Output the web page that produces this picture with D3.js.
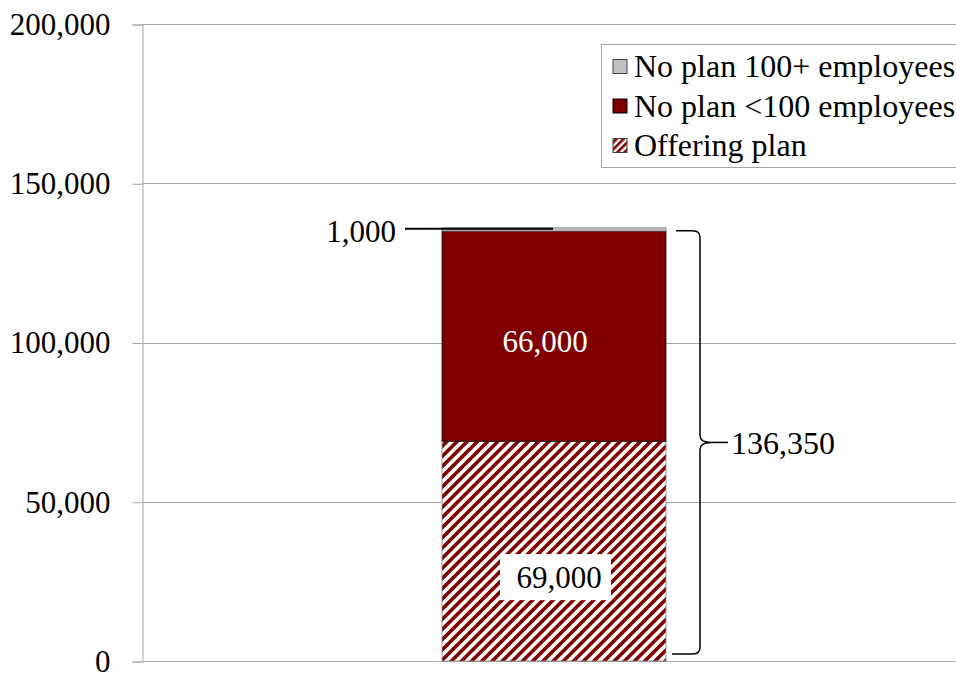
<!DOCTYPE html>
<html>
<head>
<meta charset="utf-8">
<script src="https://cdn.jsdelivr.net/npm/d3@7/dist/d3.min.js"></script>
<style>
  html, body { margin: 0; padding: 0; background: #fff; }
  svg { display: block; }
</style>
</head>
<body>
<svg id="chart" width="956" height="675" font-family="Liberation Serif, Times New Roman, serif"></svg>
<script>
// Firm counts by retirement plan status (single stacked column)
const categories = ["All firms"];
const seriesNames = ["Offering plan", "No plan <100 employees", "No plan 100+ employees"];
const offeringPlan = [69000];
const noPlanUnder100 = [66000];
const noPlan100Plus = [1000];
const totalLabel = ["136,350"];
const yTicks = [0, 50000, 100000, 150000, 200000];

const FONT = "'Liberation Serif', 'Times New Roman', Times, serif";

const svg = d3.select("#chart");
const W = 956, H = 675;
const margin = { left: 142, right: -10, top: 24, bottom: 14 };

const x = d3.scaleBand()
  .domain(categories)
  .range([margin.left, W - margin.right])
  .padding(0.5726);

const y = d3.scaleLinear()
  .domain([0, 200000])
  .range([H - margin.bottom, margin.top]);

const fmt = d3.format(",");

// hatch pattern for the "Offering plan" segment
const defs = svg.append("defs");
const pat = defs.append("pattern")
  .attr("id", "hatch")
  .attr("patternUnits", "userSpaceOnUse")
  .attr("width", 7.2)
  .attr("height", 10)
  .attr("patternTransform", "rotate(45)");
pat.append("rect").attr("width", 7.2).attr("height", 10).attr("fill", "#fff");
pat.append("rect").attr("width", 3.6).attr("height", 10).attr("fill", "#800000");

// gridlines
svg.append("g")
  .selectAll("line")
  .data(yTicks)
  .join("line")
  .attr("x1", margin.left)
  .attr("x2", W)
  .attr("y1", d => Math.round(y(d)) + 0.5)
  .attr("y2", d => Math.round(y(d)) + 0.5)
  .attr("stroke", "#a6a6a6")
  .attr("stroke-width", 1);

// y axis
const yAxis = d3.axisLeft(y)
  .tickValues(yTicks)
  .tickFormat(fmt)
  .tickSize(10)
  .tickPadding(22);
const gy = svg.append("g")
  .attr("transform", `translate(${margin.left + 0.5},0.5)`)
  .call(yAxis)
  .attr("font-family", FONT)
  .attr("font-size", 31);
gy.select(".domain").attr("stroke", "#a6a6a6");
gy.selectAll(".tick line").attr("stroke", "#a6a6a6");
gy.selectAll(".tick text")
  .style("font-family", FONT)
  .style("font-size", "31px")
  .attr("fill", "#000");

// stacked segments
const rows = categories.map((c, i) => ({
  cat: c,
  "Offering plan": offeringPlan[i],
  "No plan <100 employees": noPlanUnder100[i],
  "No plan 100+ employees": noPlan100Plus[i]
}));
const stack = d3.stack().keys(seriesNames)(rows);
const fills = {
  "Offering plan": "url(#hatch)",
  "No plan <100 employees": "#800000",
  "No plan 100+ employees": "#c0c0c0"
};
const strokes = {
  "Offering plan": "#7f7f7f",
  "No plan <100 employees": "#000",
  "No plan 100+ employees": "#7f7f7f"
};

svg.append("g")
  .selectAll("g")
  .data(stack)
  .join("g")
  .each(function(layer) {
    d3.select(this).selectAll("rect")
      .data(layer)
      .join("rect")
      .attr("x", d => x(d.data.cat))
      .attr("width", x.bandwidth())
      .attr("y", d => y(d[1]))
      .attr("height", d => y(d[0]) - y(d[1]))
      .attr("fill", fills[layer.key])
      .attr("stroke", strokes[layer.key])
      .attr("stroke-width", 0.8);
  });

const cx = x(categories[0]) + x.bandwidth() / 2;
const total = offeringPlan[0] + noPlanUnder100[0] + noPlan100Plus[0];

function label(sel, size = 31) {
  return sel.style("font-family", FONT).style("font-size", size + "px");
}

// value label: No plan <100 employees
svg.append("text")
  .attr("x", cx - 9)
  .attr("y", y(offeringPlan[0] + noPlanUnder100[0] / 2) + 5)
  .attr("dy", "0.35em")
  .attr("text-anchor", "middle")
  .attr("fill", "#fff")
  .call(label)
  .text(fmt(noPlanUnder100[0]));

// value label: Offering plan (on a white box)
const offY = y(offeringPlan[0] / 2) + 26;
svg.append("rect")
  .attr("x", cx - 54)
  .attr("y", offY - 23)
  .attr("width", 111)
  .attr("height", 46)
  .attr("fill", "#fff");
svg.append("text")
  .attr("x", cx + 5)
  .attr("y", offY)
  .attr("dy", "0.35em")
  .attr("text-anchor", "middle")
  .attr("fill", "#000")
  .call(label)
  .text(fmt(offeringPlan[0]));

// value label: No plan 100+ employees with leader line
const topY = y(total);
svg.append("line")
  .attr("x1", 405)
  .attr("x2", cx - 1)
  .attr("y1", topY + 1)
  .attr("y2", topY + 1)
  .attr("stroke", "#000")
  .attr("stroke-width", 2);
svg.append("text")
  .attr("x", 396)
  .attr("y", topY + 3)
  .attr("dy", "0.35em")
  .attr("text-anchor", "end")
  .attr("fill", "#000")
  .call(label)
  .text(fmt(noPlan100Plus[0]));

// brace spanning the whole column, with total label
const bTop = topY + 3;
const bBot = y(0) - 7;
const bMid = (bTop + bBot) / 2;
const bx = 700;
const brace = d3.path();
brace.moveTo(676, bTop);
brace.lineTo(bx - 7, bTop);
brace.quadraticCurveTo(bx, bTop, bx, bTop + 7);
brace.lineTo(bx, bMid - 7);
brace.quadraticCurveTo(bx, bMid, bx + 11, bMid);
brace.quadraticCurveTo(bx, bMid, bx, bMid + 7);
brace.lineTo(bx, bBot - 7);
brace.quadraticCurveTo(bx, bBot, bx - 7, bBot);
brace.lineTo(672, bBot);
svg.append("path")
  .attr("d", brace.toString())
  .attr("fill", "none")
  .attr("stroke", "#000")
  .attr("stroke-width", 1.5);
svg.append("line")
  .attr("x1", bx + 11)
  .attr("x2", 728)
  .attr("y1", bMid)
  .attr("y2", bMid)
  .attr("stroke", "#000")
  .attr("stroke-width", 1.5);
svg.append("text")
  .attr("x", 731)
  .attr("y", bMid)
  .attr("dy", "0.35em")
  .attr("fill", "#000")
  .call(label, 32)
  .text(totalLabel[0]);

// legend
const pat2 = defs.append("pattern")
  .attr("id", "hatchSmall")
  .attr("patternUnits", "userSpaceOnUse")
  .attr("width", 5)
  .attr("height", 8)
  .attr("patternTransform", "rotate(45)");
pat2.append("rect").attr("width", 5).attr("height", 8).attr("fill", "#fff");
pat2.append("rect").attr("width", 2.6).attr("height", 8).attr("fill", "#800000");

const legendItems = [
  { name: "No plan 100+ employees", fill: "#c0c0c0", stroke: "#404040" },
  { name: "No plan <100 employees", fill: "#800000", stroke: "#000" },
  { name: "Offering plan", fill: "url(#hatchSmall)", stroke: "#404040" }
];

const lg = svg.append("g");
lg.append("rect")
  .attr("x", 601.5)
  .attr("y", 44.5)
  .attr("width", 400)
  .attr("height", 123)
  .attr("fill", "#fff")
  .attr("stroke", "#a6a6a6")
  .attr("stroke-width", 1);
const li = lg.selectAll("g.item")
  .data(legendItems)
  .join("g")
  .attr("class", "item")
  .attr("transform", (d, i) => `translate(0,${66.5 + i * 39.5})`);
li.append("rect")
  .attr("x", 613)
  .attr("y", -7)
  .attr("width", 14)
  .attr("height", 14)
  .attr("fill", d => d.fill)
  .attr("stroke", d => d.stroke)
  .attr("stroke-width", 1);
li.append("text")
  .attr("x", 634)
  .attr("y", 0)
  .attr("dy", "0.33em")
  .attr("fill", "#000")
  .call(label, 32)
  .text(d => d.name);
</script>
</body>
</html>
